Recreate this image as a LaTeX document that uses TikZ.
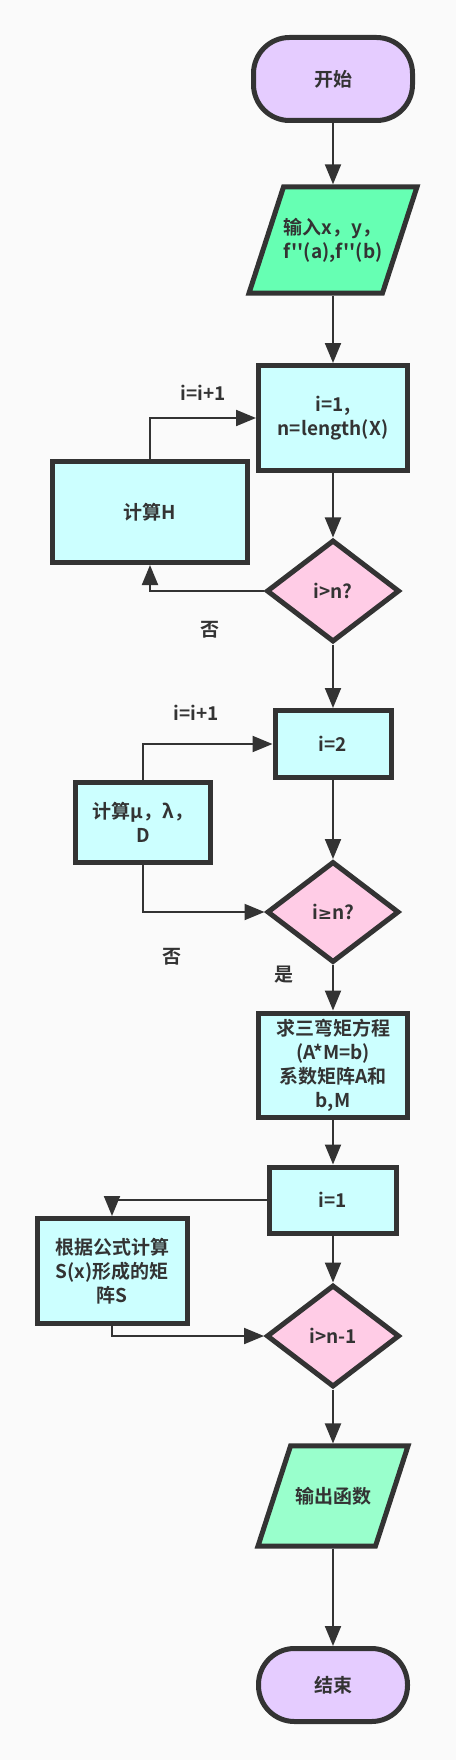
\documentclass[tikz,border=0pt]{standalone}
\usepackage{fontspec}
\setmainfont{Noto Sans CJK SC Bold}[Ligatures=TeXOff]
\newfontfamily\symfont{DejaVu Sans Bold}
\usetikzlibrary{shapes.geometric,arrows.meta}
\definecolor{ink}{HTML}{333333}
\definecolor{bgc}{HTML}{FAFAFA}
\definecolor{termfill}{HTML}{E5CCFF}
\definecolor{infill}{HTML}{66FFB3}
\definecolor{outfill}{HTML}{99FFCC}
\definecolor{boxfill}{HTML}{CCFFFF}
\definecolor{askfill}{HTML}{FFCCE6}

\begin{document}
\begin{tikzpicture}[x=1pt,y=-1pt,
  base/.style={draw=ink,line width=5pt,text=ink,inner sep=0pt,align=center,font=\fontsize{19}{24}\selectfont},
  term/.style={base,rectangle,rounded corners=36pt,fill=termfill},
  io/.style={base,trapezium,trapezium left angle=72,trapezium right angle=108,trapezium stretches body=true},
  proc/.style={base,rectangle,fill=boxfill},
  ask/.style={base,diamond,fill=askfill},
  lbl/.style={text=ink,inner sep=0pt,font=\fontsize{19}{24}\selectfont},
  arr/.style={draw=ink,line width=2pt,-{Triangle[length=20pt,width=16pt]}}]
\useasboundingbox (0,0) rectangle (456,1760);
\fill[bgc] (0,0) rectangle (456,1760);
\node[term,minimum width=159pt,minimum height=83pt] (start) at (333,79) {开始};
\node[io,fill=infill,align=left,inner ysep=31pt,minimum width=168pt] (in) at (333,240) {输入x，y，\\f''(a),f''(b)};
\node[proc,minimum width=149pt,minimum height=105pt] (init1) at (333,418) {i=1,\\n=length(X)};
\node[proc,minimum width=195pt,minimum height=101pt] (calch) at (150,512) {计算H};
\node[ask,minimum width=133pt,minimum height=102pt] (ask1) at (333,591) {i>n?};
\node[proc,minimum width=116pt,minimum height=67pt] (init2) at (333,744) {i=2};
\node[proc,minimum width=135pt,minimum height=80pt] (calcmu) at (143,822) {计算μ，λ，\\D};
\node[ask,minimum width=132pt,minimum height=101pt] (ask2) at (333,912) {i{\symfont\fontsize{17}{24}\selectfont ≥}n?};
\node[proc,minimum width=149pt,minimum height=104pt] (solve) at (333,1065) {求三弯矩方程\\(A*M=b)\\系数矩阵A和\\b,M};
\node[proc,minimum width=127pt,minimum height=66pt] (init3) at (333,1200) {i=1};
\node[proc,minimum width=150pt,minimum height=105pt] (calcs) at (112,1271) {根据公式计算\\S(x)形成的矩\\阵S};
\node[ask,minimum width=133pt,minimum height=102pt] (ask3) at (333,1336) {i>n-1};
\node[io,fill=outfill,inner ysep=41pt,minimum width=150pt] (out) at (333,1496) {输出函数};
\node[term,minimum width=149pt,minimum height=73pt] (stop) at (333,1685) {结束};
\node[lbl] (inc1) at (203,393) {i=i+1};
\node[lbl] (no1) at (210,630) {否};
\node[lbl] (inc2) at (196,713) {i=i+1};
\node[lbl] (no2) at (172,957) {否};
\node[lbl] (yes2) at (284,975) {是};
\draw[arr] (start) -- (in);
\draw[arr] (in) -- (init1);
\draw[arr] (init1) -- (ask1);
\draw[arr] (ask1.west) -| (calch.south);
\draw[arr] (calch.north) |- (init1.west);
\draw[arr] (ask1) -- (init2);
\draw[arr] (init2) -- (ask2);
\draw[arr] (calcmu.north) |- (init2.west);
\draw[arr] (calcmu.south) |- (ask2.west);
\draw[arr] (ask2) -- (solve);
\draw[arr] (solve) -- (init3);
\draw[arr] (init3.west) -| (calcs.north);
\draw[arr] (calcs.south) |- (ask3.west);
\draw[arr] (init3) -- (ask3);
\draw[arr] (ask3) -- (out);
\draw[arr] (out) -- (stop);
\end{tikzpicture}
\end{document}
